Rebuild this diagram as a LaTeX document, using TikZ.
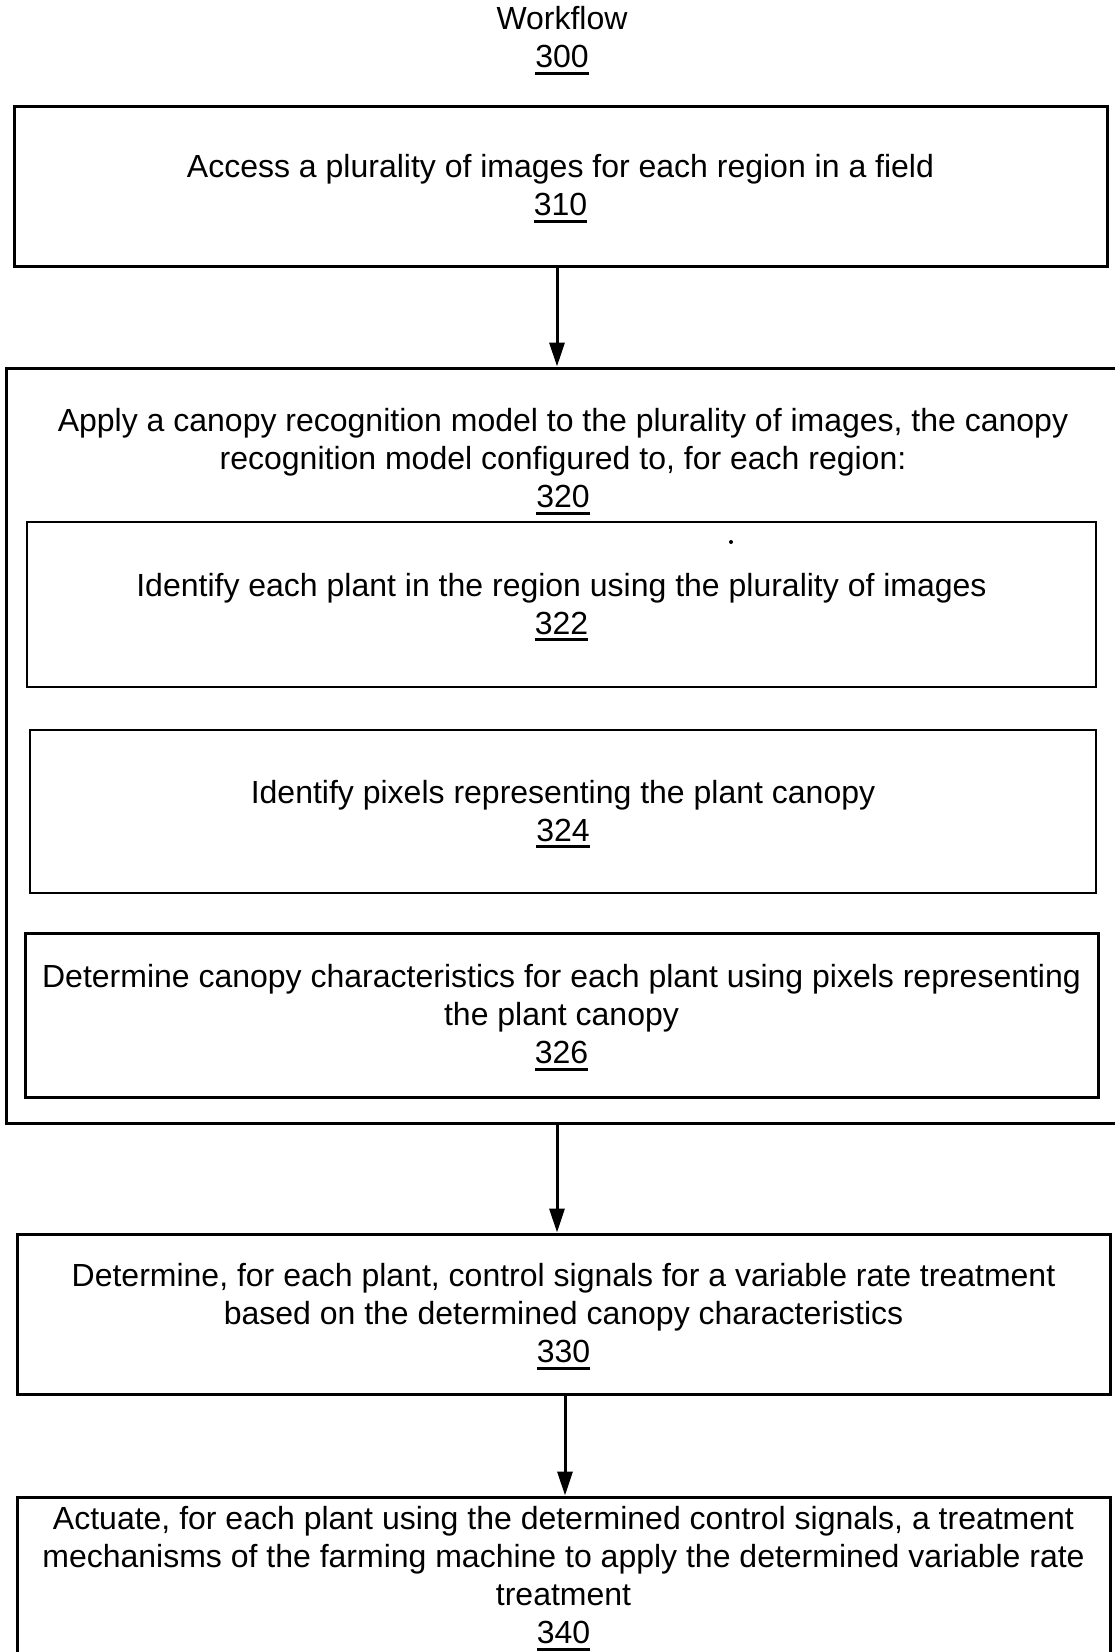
\documentclass[tikz,border=0pt]{standalone}
\usepackage{fontspec}
\setmainfont{Liberation Sans}
\usetikzlibrary{arrows.meta}

\newcommand{\refnum}[1]{\mbox{\setbox0\vtop{\hbox{#1}\kern4pt\hrule height 2.7pt}\dp0=2pt\box0}}

\tikzset{
  stepbox/.style={draw, line width=3pt, align=center, inner sep=0pt, font=\fontsize{32}{38}\selectfont},
  subbox/.style={stepbox, line width=2.2pt},
  flow/.style={line width=3pt, -{Triangle[length=24pt, width=15pt]}},
}

\begin{document}
\begin{tikzpicture}[x=1pt, y=-1pt]
    \useasboundingbox (0,0) rectangle (1114,1652);

    \node [align=center, font=\fontsize{32}{38}\selectfont] (title) at (562, 38) {Workflow\\\refnum{300}};

    \node [stepbox, minimum width=1093pt, minimum height=160pt] (access) at (560.5, 186) {Access a plurality of images for each region in a field\\\refnum{310}};

    \node [stepbox, minimum width=1114pt, minimum height=755pt] (canopy) at (563, 745.5) {};
    \node [align=center, font=\fontsize{32}{38}\selectfont] (canopytxt) at (563, 459) {Apply a canopy recognition model to the plurality of images, the canopy\\recognition model configured to, for each region:\\\refnum{320}};

    \node [subbox, minimum width=1069pt, minimum height=165pt] (plants) at (561.5, 604.5) {Identify each plant in the region using the plurality of images\\\refnum{322}};
    \fill (731, 542) circle (2pt);
    \node [subbox, minimum width=1066pt, minimum height=163pt] (pixels) at (563, 811.5) {Identify pixels representing the plant canopy\\\refnum{324}};
    \node [stepbox, minimum width=1073pt, minimum height=164pt] (traits) at (561.5, 1015) {Determine canopy characteristics for each plant using pixels representing\\the plant canopy\\\refnum{326}};

    \node [stepbox, minimum width=1093pt, minimum height=160pt] (signals) at (563.5, 1314) {Determine, for each plant, control signals for a variable rate treatment\\based on the determined canopy characteristics\\\refnum{330}};

    \node [stepbox, minimum width=1093pt, minimum height=158pt] (actuate) at (563.5, 1576) {Actuate, for each plant using the determined control signals, a treatment\\mechanisms of the farming machine to apply the determined variable rate\\treatment\\\refnum{340}};

    \draw [flow] ([xshift=-3.5pt]access.south) -- ([xshift=-3.5pt]access.south |- canopy.north);
    \draw [flow] ([xshift=-6pt]canopy.south) -- ([xshift=-6pt]canopy.south |- signals.north);
    \draw [flow] ([xshift=1.5pt]signals.south) -- ([xshift=1.5pt]signals.south |- actuate.north);
\end{tikzpicture}
\end{document}
